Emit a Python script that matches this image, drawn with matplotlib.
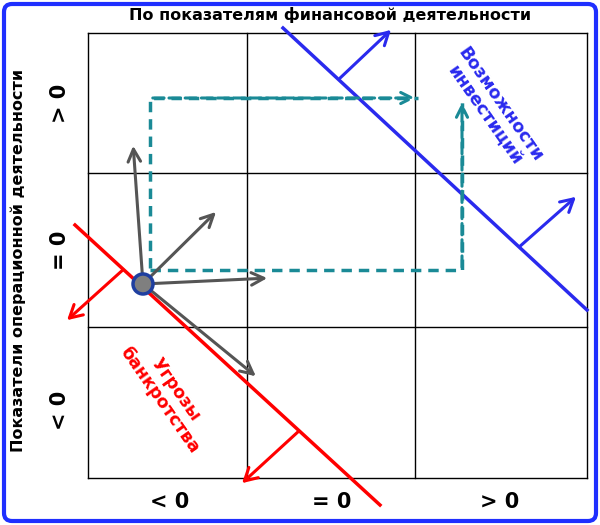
import matplotlib.pyplot as plt
from matplotlib.patches import FancyBboxPatch, Circle

# grid lines (pixel coords of the 600x525 canvas)
grid_x = [88, 247, 415, 587]
grid_y = [33, 173, 327, 478]
row_labels = ["> 0", "= 0", "< 0"]
col_labels = ["< 0", "= 0", "> 0"]
row_pos = [103, 250, 410]
col_pos = [170, 332, 500]

red_line = [(75, 225), (380, 505)]
blue_line = [(283, 28), (587, 310)]
red_arrows = [((125, 268), (65, 322)), ((300, 430), (240, 485))]
blue_arrows = [((338, 80), (393, 28)), ((518, 248), (578, 195))]
origin = (143, 284)
gray_tips = [(133, 143), (218, 210), (270, 278), (258, 378)]
teal = "#1a8a96"
dashed_paths = [
    [(150, 268), (150, 98), (418, 98)],
    [(150, 270), (462, 270), (462, 100)],
]

fig = plt.figure(figsize=(6, 5.25), dpi=100)
ax = fig.add_axes([0, 0, 1, 1])
ax.set_xlim(0, 600)
ax.set_ylim(525, 0)
ax.axis("off")

ax.add_patch(FancyBboxPatch((4, 4), 592, 517, boxstyle="round,pad=0,rounding_size=8",
                            fill=False, ec="#1f2fff", lw=3))

for x in grid_x:
    ax.plot([x, x], [grid_y[0], grid_y[-1]], color="black", lw=1)
for y in grid_y:
    ax.plot([grid_x[0], grid_x[-1]], [y, y], color="black", lw=1)

ax.text(330, 15, "По показателям финансовой деятельности", ha="center", va="center",
        fontsize=11.5, fontweight="bold")
ax.text(18, 260, "Показатели операционной деятельности", ha="center", va="center",
        rotation=90, fontsize=11.5, fontweight="bold")
for lab, y in zip(row_labels, row_pos):
    ax.text(60, y, lab, ha="center", va="center", rotation=90, fontsize=15, fontweight="bold")
for lab, x in zip(col_labels, col_pos):
    ax.text(x, 502, lab, ha="center", va="center", fontsize=15, fontweight="bold")

ax.plot(*zip(*red_line), color="red", lw=2.5)
ax.plot(*zip(*blue_line), color="#2a2aee", lw=2.5)
for (s, e) in red_arrows:
    ax.annotate("", xy=e, xytext=s, arrowprops=dict(arrowstyle="->,head_width=0.5,head_length=0.9", color="red", lw=2.2))
for (s, e) in blue_arrows:
    ax.annotate("", xy=e, xytext=s, arrowprops=dict(arrowstyle="->,head_width=0.5,head_length=0.9", color="#2a2aee", lw=2.2))

for path in dashed_paths:
    xs, ys = zip(*path)
    ax.plot(xs[:-1] + (xs[-1],), ys, color=teal, lw=2.5, ls=(0, (3, 2)))
    ax.annotate("", xy=path[-1], xytext=path[-2], arrowprops=dict(arrowstyle="->,head_width=0.4,head_length=0.8", color=teal, lw=2.2, ls="--"))
    ax.annotate("", xy=path[1], xytext=path[0], arrowprops=dict(arrowstyle="->,head_width=0.4,head_length=0.8", color=teal, lw=0))

for tip in gray_tips:
    ax.annotate("", xy=tip, xytext=origin, arrowprops=dict(arrowstyle="->,head_width=0.45,head_length=0.9", color="#555555", lw=2.2))
ax.add_patch(Circle(origin, 10, fc="#7f7f7f", ec="#1f3fa0", lw=2.5, zorder=5))

ax.text(492, 110, "Возможности\nинвестиций", ha="center", va="center", rotation=-55,
        color="#2a2aee", fontsize=12.5, fontweight="bold", linespacing=1.1)
ax.text(168, 395, "Угрозы\nбанкротства", ha="center", va="center", rotation=-55,
        color="red", fontsize=12.5, fontweight="bold", linespacing=1.1)

fig.savefig("out.png", dpi=100)
